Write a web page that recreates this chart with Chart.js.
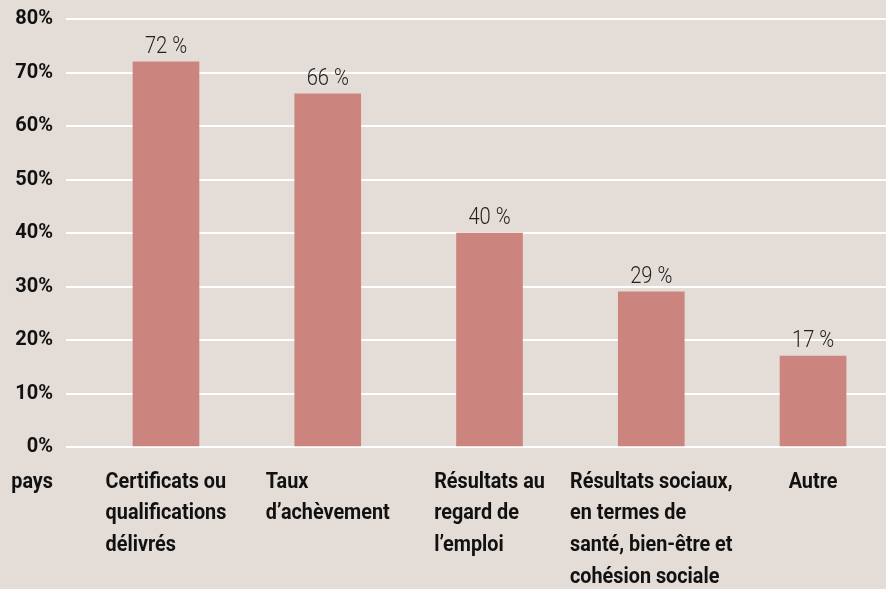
<!DOCTYPE html>
<html>
<head>
<meta charset="utf-8">
<script src="https://cdn.jsdelivr.net/npm/chart.js@4/dist/chart.umd.min.js"></script>
<style>
  html, body { margin: 0; padding: 0; background: #e4dcd6; }
  #wrap { width: 886px; height: 589px; position: relative; }
</style>
</head>
<body>
<div id="wrap"><canvas id="chart"></canvas></div>
<script>
// categories (one array of lines per bar, as printed under the axis)
const categories = [
  ["Certificats ou", "qualifications", "délivrés"],
  ["Taux", "d’achèvement"],
  ["Résultats au", "regard de", "l’emploi"],
  ["Résultats sociaux,", "en termes de", "santé, bien-être et", "cohésion sociale"],
  ["Autre"]
]
const shares = [72, 66, 40, 29, 17]
const yTicks = [0, 10, 20, 30, 40, 50, 60, 70, 80]
const axisNote = "pays"

const BAR = "#cc857e"
const TEXT = "#111111"

// data labels + multi line category labels, left aligned in a block centred on the bar
const labelPlugin = {
  id: "labels",
  afterDraw(chart) {
    const ctx = chart.ctx
    const meta = chart.getDatasetMeta(0)
    const area = chart.chartArea

    ctx.save()
    ctx.fillStyle = "#222"
    ctx.font = "300 24px Roboto"
    ctx.textBaseline = "alphabetic"
    ctx.textAlign = "center"
    meta.data.forEach((bar, i) => {
      ctx.save()
      ctx.translate(bar.x, bar.y - 9)
      ctx.scale(0.84, 1)
      ctx.fillText(shares[i] + " %", 0, 0)
      ctx.restore()
    })

    ctx.fillStyle = TEXT
    ctx.font = "bold 22px Roboto"
    ctx.textBaseline = "middle"
    ctx.textAlign = "left"
    const sx = 0.9
    const lineH = 31.7
    const top = area.bottom + 35
    categories.forEach((lines, i) => {
      const cx = meta.data[i].x
      const w = Math.max(...lines.map(l => ctx.measureText(l).width)) * sx
      lines.forEach((l, k) => {
        ctx.save()
        ctx.translate(cx - w / 2, top + k * lineH)
        ctx.scale(sx, 1)
        ctx.fillText(l, 0, 0)
        ctx.restore()
      })
    })

    ctx.save()
    ctx.textAlign = "right"
    ctx.translate(area.left - 13, top)
    ctx.scale(sx, 1)
    ctx.fillText(axisNote, 0, 0)
    ctx.restore()
    ctx.restore()
  }
}

new Chart(document.getElementById("chart"), {
  type: "bar",
  data: {
    datasets: [{
      data: shares.map((v, i) => ({ x: i, y: v })),
      backgroundColor: BAR,
      borderWidth: 0,
      barThickness: 66
    }]
  },
  options: {
    responsive: true,
    maintainAspectRatio: false,
    animation: false,
    layout: { padding: { top: 19, bottom: 142, left: 0, right: 0 } },
    plugins: {
      legend: { display: false },
      tooltip: { enabled: false }
    },
    scales: {
      x: {
        type: "linear",
        offset: false,
        min: -0.618,
        max: 4.451,
        display: false
      },
      y: {
        min: 0,
        max: 80,
        afterBuildTicks: axis => { axis.ticks = yTicks.map(v => ({ value: v })) },
        afterFit: axis => {
          axis.width = 66
          axis.paddingTop = 0
          axis.paddingBottom = 0
        },
        border: { display: false },
        grid: { color: "#ffffff", lineWidth: 2, drawTicks: false },
        ticks: {
          padding: 13,
          color: TEXT,
          font: { family: "Roboto", size: 20, weight: "bold" },
          callback: v => v + "%"
        }
      }
    }
  },
  plugins: [labelPlugin]
})
</script>
</body>
</html>
